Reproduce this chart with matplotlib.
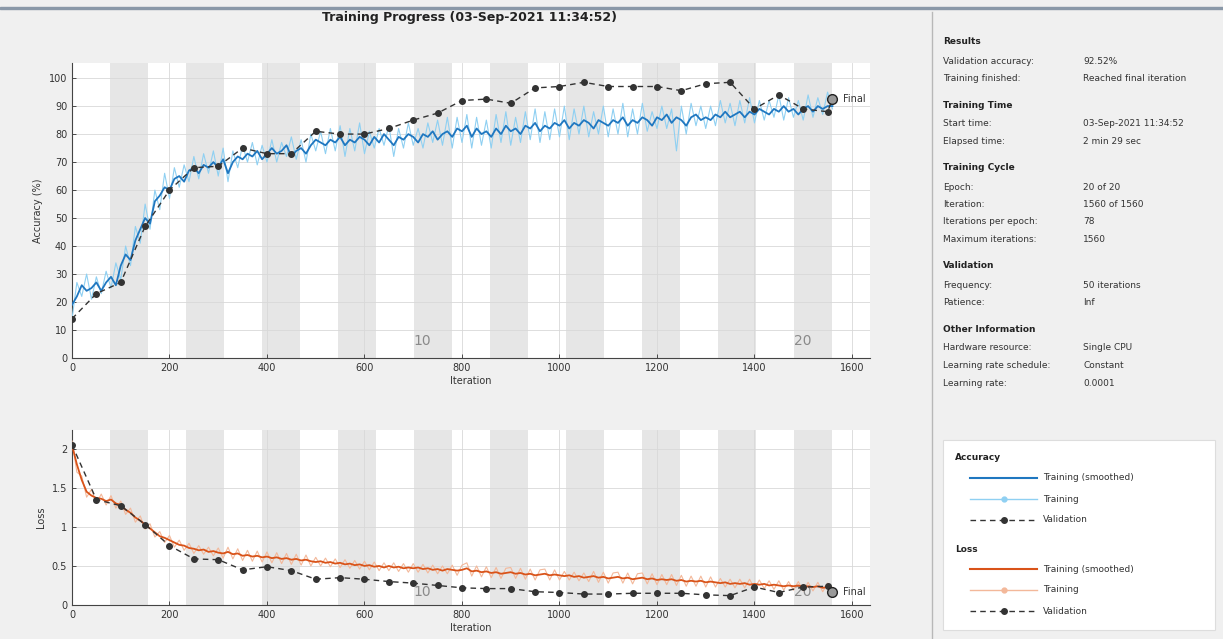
import numpy as np
import matplotlib
matplotlib.use("Agg")
import matplotlib.pyplot as plt
from matplotlib.patches import Rectangle
from matplotlib.lines import Line2D

# ---- data ----
iters_per_epoch = 78
num_epochs = 20
step_iters = list(range(0, 1561, 10))

acc_smooth = [19, 22, 26, 24, 25, 27, 24, 27, 29, 26, 33, 37, 35, 42, 46, 50, 48, 56, 58, 61,
              60, 64, 65, 63, 67, 68, 66, 69, 68, 70, 68, 71, 66, 70, 72, 71, 73, 72, 74, 71,
              73, 75, 73, 74, 76, 72, 74, 75, 73, 76, 78, 77, 76, 78, 77, 79, 76, 78, 77, 79,
              78, 76, 79, 77, 80, 78, 76, 79, 78, 80, 79, 77, 80, 79, 81, 78, 80, 81, 79, 82,
              81, 83, 79, 82, 80, 81, 79, 82, 80, 83, 81, 82, 80, 83, 82, 84, 81, 83, 82, 84,
              83, 85, 82, 84, 83, 85, 84, 82, 85, 84, 83, 85, 84, 86, 83, 85, 84, 86, 85, 83,
              86, 85, 87, 84, 86, 85, 83, 86, 87, 85, 86, 85, 87, 86, 88, 86, 87, 88, 86, 88,
              87, 89, 88, 87, 89, 88, 90, 88, 89, 87, 89, 90, 88, 90, 89, 90, 90]

acc_raw = [14, 27, 22, 30, 21, 29, 23, 31, 25, 34, 28, 40, 33, 47, 41, 55, 46, 60, 53, 66,
           57, 68, 61, 69, 63, 72, 64, 73, 66, 74, 65, 75, 63, 74, 68, 76, 70, 77, 69, 76,
           70, 78, 70, 77, 72, 79, 71, 78, 70, 80, 74, 81, 73, 82, 74, 83, 72, 82, 74, 84,
           73, 81, 75, 82, 76, 83, 72, 82, 75, 84, 76, 82, 75, 84, 77, 85, 76, 86, 75, 86,
           77, 87, 75, 86, 76, 85, 75, 87, 77, 88, 76, 86, 77, 88, 78, 89, 77, 88, 78, 89,
           79, 90, 78, 89, 80, 90, 79, 88, 80, 90, 79, 89, 80, 91, 79, 89, 80, 91, 81, 88,
           82, 90, 82, 89, 74, 90, 80, 91, 83, 90, 82, 90, 83, 92, 84, 91, 83, 92, 84, 93,
           84, 92, 85, 92, 86, 94, 85, 93, 86, 92, 85, 94, 86, 93, 87, 95, 89]

loss_smooth = [2.05, 1.80, 1.60, 1.45, 1.40, 1.37, 1.36, 1.33, 1.35, 1.30, 1.28, 1.22, 1.18, 1.12,
               1.08, 1.03, 0.98, 0.93, 0.88, 0.86, 0.83, 0.80, 0.77, 0.76, 0.73, 0.72, 0.70, 0.71,
               0.68, 0.69, 0.67, 0.66, 0.68, 0.65, 0.66, 0.63, 0.64, 0.62, 0.63, 0.61, 0.62, 0.60,
               0.61, 0.59, 0.60, 0.58, 0.59, 0.57, 0.58, 0.56, 0.55, 0.56, 0.54, 0.55, 0.53, 0.54,
               0.52, 0.53, 0.51, 0.52, 0.50, 0.51, 0.49, 0.50, 0.48, 0.50, 0.48, 0.49, 0.47, 0.48,
               0.47, 0.48, 0.46, 0.47, 0.45, 0.46, 0.44, 0.46, 0.45, 0.44, 0.45, 0.47, 0.43, 0.44,
               0.42, 0.43, 0.41, 0.42, 0.40, 0.41, 0.42, 0.40, 0.41, 0.39, 0.40, 0.38, 0.39, 0.40,
               0.38, 0.39, 0.38, 0.37, 0.38, 0.36, 0.37, 0.35, 0.36, 0.37, 0.35, 0.36, 0.34, 0.35,
               0.36, 0.34, 0.35, 0.33, 0.34, 0.35, 0.33, 0.34, 0.32, 0.33, 0.32, 0.33, 0.31, 0.32,
               0.30, 0.31, 0.30, 0.31, 0.29, 0.30, 0.29, 0.28, 0.29, 0.27, 0.28, 0.27, 0.28, 0.26,
               0.27, 0.26, 0.27, 0.25, 0.26, 0.25, 0.24, 0.25, 0.24, 0.25, 0.23, 0.24, 0.23, 0.24,
               0.22, 0.23, 0.22]

loss_raw = [2.10, 1.70, 1.65, 1.38, 1.48, 1.30, 1.42, 1.28, 1.40, 1.24, 1.33, 1.16, 1.24, 1.06,
            1.14, 0.97, 1.04, 0.87, 0.94, 0.80, 0.89, 0.74, 0.83, 0.70, 0.79, 0.66, 0.76, 0.65,
            0.74, 0.63, 0.73, 0.60, 0.74, 0.59, 0.72, 0.57, 0.70, 0.56, 0.69, 0.55, 0.68, 0.54,
            0.67, 0.53, 0.66, 0.52, 0.65, 0.51, 0.64, 0.50, 0.61, 0.50, 0.60, 0.49, 0.59, 0.48,
            0.58, 0.47, 0.57, 0.46, 0.56, 0.45, 0.55, 0.44, 0.54, 0.44, 0.54, 0.43, 0.53, 0.42,
            0.53, 0.42, 0.52, 0.41, 0.51, 0.40, 0.50, 0.40, 0.51, 0.38, 0.51, 0.54, 0.37, 0.50,
            0.36, 0.49, 0.35, 0.48, 0.34, 0.47, 0.48, 0.34, 0.47, 0.33, 0.46, 0.32, 0.45, 0.46,
            0.32, 0.45, 0.32, 0.43, 0.32, 0.42, 0.31, 0.41, 0.30, 0.43, 0.29, 0.42, 0.28, 0.41,
            0.42, 0.28, 0.41, 0.27, 0.40, 0.41, 0.27, 0.40, 0.26, 0.39, 0.26, 0.39, 0.25, 0.38,
            0.24, 0.37, 0.24, 0.37, 0.23, 0.36, 0.23, 0.34, 0.23, 0.33, 0.22, 0.33, 0.22, 0.33,
            0.21, 0.32, 0.21, 0.31, 0.20, 0.31, 0.19, 0.30, 0.19, 0.30, 0.18, 0.29, 0.18, 0.29,
            0.17, 0.28, 0.18]

val_iters = list(range(0, 1551, 50))
val_acc = [14, 23, 27, 47, 60, 68, 68.5, 75, 73, 73, 81, 80, 80, 82, 85, 87.5,
           92, 92.5, 91, 96.5, 97, 98.5, 97, 97, 97, 95.5, 98, 98.5, 89, 94, 89, 88]
val_loss = [2.05, 1.35, 1.27, 1.03, 0.76, 0.59, 0.58, 0.45, 0.49, 0.44, 0.33, 0.35, 0.33, 0.30,
            0.28, 0.25, 0.22, 0.21, 0.21, 0.17, 0.16, 0.14, 0.14, 0.15, 0.15, 0.15, 0.13, 0.12,
            0.23, 0.16, 0.23, 0.24]
final_iter = 1560
final_acc = 92.52
final_loss = 0.17

info_sections = [
    ("Results", [("Validation accuracy:", "92.52%"),
                 ("Training finished:", "Reached final iteration")]),
    ("Training Time", [("Start time:", "03-Sep-2021 11:34:52"),
                       ("Elapsed time:", "2 min 29 sec")]),
    ("Training Cycle", [("Epoch:", "20 of 20"),
                        ("Iteration:", "1560 of 1560"),
                        ("Iterations per epoch:", "78"),
                        ("Maximum iterations:", "1560")]),
    ("Validation", [("Frequency:", "50 iterations"),
                    ("Patience:", "Inf")]),
    ("Other Information", [("Hardware resource:", "Single CPU"),
                           ("Learning rate schedule:", "Constant"),
                           ("Learning rate:", "0.0001")]),
]

# ---- colours ----
BG = "#f0f0f0"
BLUE = "#1f77c0"
LIGHT_BLUE = "#8fd0f2"
ORANGE = "#d95319"
LIGHT_ORANGE = "#f3b89a"
BAND = "#e6e6e6"
VAL = "#333333"

W, H = 1223, 639
fig = plt.figure(figsize=(W / 100, H / 100), dpi=100, facecolor=BG)


def px(x, y):
    # pixel coords (from top-left) -> figure fraction
    return x / W, 1 - y / H


# window border strip at the top
fig.patches.append(Rectangle((0, 1 - 9 / H), 1, 2.5 / H, transform=fig.transFigure,
                             color="#8a98a8", zorder=0))

fig.text(*px(470, 18), "Training Progress (03-Sep-2021 11:34:52)", ha="center", va="center",
         fontsize=9, fontweight="bold", color="#222222")


def setup_axes(ax, ylim, yticks, yticklabels, ylabel):
    ax.set_facecolor("white")
    ax.set_xlim(0, 1637)
    ax.set_ylim(*ylim)
    for e in range(2, num_epochs + 1, 2):
        ax.axvspan((e - 1) * iters_per_epoch, e * iters_per_epoch, color=BAND, lw=0, zorder=0)
    ax.set_xticks(range(0, 1601, 200))
    ax.set_yticks(yticks)
    ax.set_yticklabels(yticklabels)
    ax.grid(True, color="#d8d8d8", lw=0.6, zorder=1)
    ax.set_axisbelow(True)
    for s in ["top", "right"]:
        ax.spines[s].set_visible(False)
    for s in ["left", "bottom"]:
        ax.spines[s].set_color("#444444")
        ax.spines[s].set_linewidth(0.8)
    ax.tick_params(labelsize=7, colors="#333333", direction="in", length=3, width=0.6)
    ax.set_xlabel("Iteration", fontsize=7, color="#333333", labelpad=2)
    ax.set_ylabel(ylabel, fontsize=7, color="#333333", labelpad=4)
    for e in (10, 20):
        ax.text((e - 0.5) * iters_per_epoch - 22, ylim[0] + (ylim[1] - ylim[0]) * 0.035, str(e),
                ha="center", va="bottom", fontsize=10, color="#8a8a8a", zorder=3)


ax1 = fig.add_axes([72 / W, 1 - 358 / H, 798 / W, 295 / H])
setup_axes(ax1, (0, 105.4), range(0, 101, 10), [str(v) for v in range(0, 101, 10)], "Accuracy (%)")
ax1.plot(step_iters, acc_raw, color=LIGHT_BLUE, lw=0.8, zorder=4)
ax1.plot(step_iters, acc_smooth, color=BLUE, lw=1.3, zorder=5)
ax1.plot(val_iters + [final_iter], val_acc + [final_acc], color=VAL, ls=(0, (4, 3)), lw=1,
         marker="o", ms=4, mfc=VAL, mec=VAL, zorder=6)
ax1.plot([final_iter], [final_acc], marker="o", ms=7, mfc="#9a9a9a", mec="#222222", mew=1, zorder=7)
ax1.text(final_iter + 22, final_acc, "Final", fontsize=7, va="center", color="#333333", zorder=7)

ax2 = fig.add_axes([72 / W, 1 - 605 / H, 798 / W, 175 / H])
setup_axes(ax2, (0, 2.24), [0, 0.5, 1, 1.5, 2], ["0", "0.5", "1", "1.5", "2"], "Loss")
ax2.plot(step_iters, loss_raw, color=LIGHT_ORANGE, lw=0.8, zorder=4)
ax2.plot(step_iters, loss_smooth, color=ORANGE, lw=1.3, zorder=5)
ax2.plot(val_iters + [final_iter], val_loss + [final_loss], color=VAL, ls=(0, (4, 3)), lw=1,
         marker="o", ms=4, mfc=VAL, mec=VAL, zorder=6)
ax2.plot([final_iter], [final_loss], marker="o", ms=7, mfc="#9a9a9a", mec="#222222", mew=1, zorder=7)
ax2.text(final_iter + 22, final_loss, "Final", fontsize=7, va="center", color="#333333", zorder=7)

# ---- right info panel ----
fig.add_artist(Line2D([932 / W, 932 / W], [0, 1 - 12 / H], transform=fig.transFigure,
                      color="#b8b8b8", lw=1))
y = 42
for title, rows in info_sections:
    fig.text(*px(943, y), title, fontsize=6.5, fontweight="bold", va="center", color="#222222")
    y += 19
    for label, value in rows:
        fig.text(*px(943, y), label, fontsize=6.5, va="center", color="#333333")
        fig.text(*px(1083, y), value, fontsize=6.5, va="center", color="#333333")
        y += 17.5
    y += 9

# ---- legend box ----
fig.patches.append(Rectangle(px(943, 630), 272 / W, 190 / H, transform=fig.transFigure,
                             facecolor="white", edgecolor="#dddddd", lw=0.8, zorder=1))


def legend_block(y0, name, c_smooth, c_raw):
    fig.text(*px(955, y0), name, fontsize=6.5, fontweight="bold", va="center", color="#222222")
    rows = [("Training (smoothed)", dict(color=c_smooth, lw=1.5)),
            ("Training", dict(color=c_raw, lw=1, marker="o", ms=3.5, markevery=[1])),
            ("Validation", dict(color=VAL, lw=1, ls=(0, (4, 3)), marker="o", ms=4, markevery=[1]))]
    yy = y0 + 20
    for label, style in rows:
        x0, y1 = px(970, yy)
        x1, _ = px(1037, yy)
        fig.add_artist(Line2D([x0, (x0 + x1) / 2, x1], [y1, y1, y1], transform=fig.transFigure,
                              zorder=3, **style))
        fig.text(*px(1043, yy), label, fontsize=6.5, va="center", color="#333333", zorder=3)
        yy += 21


legend_block(458, "Accuracy", BLUE, LIGHT_BLUE)
legend_block(549, "Loss", ORANGE, LIGHT_ORANGE)

fig.savefig("out.png", dpi=100, facecolor=BG)
